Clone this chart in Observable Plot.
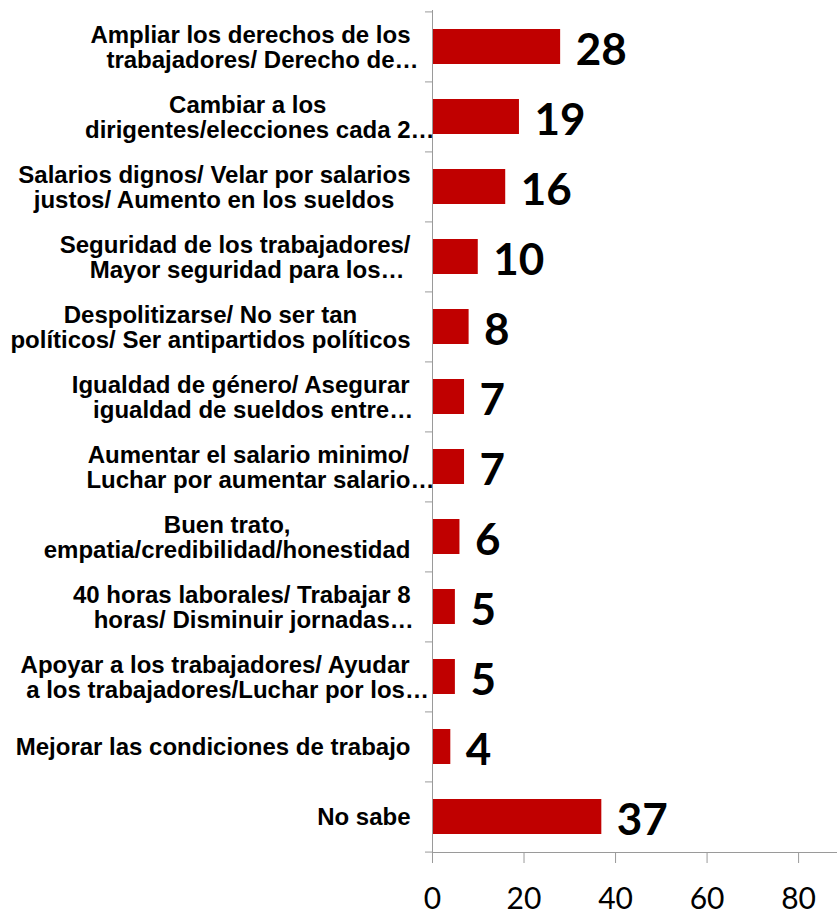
<!DOCTYPE html>
<html><head><meta charset="utf-8">
<script src="https://cdn.jsdelivr.net/npm/d3@7"></script>
<script src="https://cdn.jsdelivr.net/npm/@observablehq/plot@0.6"></script>
<style>body{margin:0;background:#fff} #chart svg{display:block;background:#fff}</style>
</head><body><div id="chart"></div>
<script>
const categories = [
  "Ampliar los derechos de los\ntrabajadores/ Derecho de…",
  "Cambiar a los\ndirigentes/elecciones cada 2…",
  "Salarios dignos/ Velar por salarios\njustos/ Aumento en los sueldos",
  "Seguridad de los trabajadores/\nMayor seguridad para los…",
  "Despolitizarse/ No ser tan\npolíticos/ Ser antipartidos políticos",
  "Igualdad de género/ Asegurar\nigualdad de sueldos entre…",
  "Aumentar el salario minimo/\nLuchar por aumentar salario…",
  "Buen trato,\nempatia/credibilidad/honestidad",
  "40 horas laborales/ Trabajar 8\nhoras/ Disminuir jornadas…",
  "Apoyar a los trabajadores/ Ayudar\na los trabajadores/Luchar por los…",
  "Mejorar las condiciones de trabajo",
  "No sabe"
];
const values = [28, 19, 16, 10, 8, 7, 7, 6, 5, 5, 4, 37];
const xTicks = [0, 20, 40, 60, 80];

const data = categories.map((c, i) => ({cat: c, value: values[i]}));
const W = 837, H = 914, mL = 432, mT = 10, mB = 62;
const step = (H - mT - mB) / categories.length;
const axisGray = "#9a9a9a";
const labelSize = 24;
const ctx = document.createElement("canvas").getContext("2d");
ctx.font = `bold ${labelSize}px 'Liberation Sans'`;
const gap = 22, lineH = 25.5;
const labelMarks = [];
categories.forEach(c => {
  const lines = c.split("\n");
  const widths = lines.map(l => ctx.measureText(l.replace(/…$/, "")).width);
  const maxW = Math.max(...widths);
  const center = -gap - maxW / 2;
  lines.forEach((l, i) => {
    labelMarks.push(Plot.text([c], {
      y: d => d, text: () => l, frameAnchor: "left", textAnchor: "start",
      dx: center - widths[i] / 2,
      dy: (i - (lines.length - 1) / 2) * lineH + 0.8,
      fontSize: labelSize, fontWeight: "bold",
      fontFamily: "'Liberation Sans', Arial, sans-serif", fill: "#000"
    }));
  });
});

const chart = Plot.plot({
  width: W, height: H,
  marginLeft: mL, marginRight: 0, marginTop: mT, marginBottom: mB,
  x: {domain: [0, 88.5]},
  y: {domain: categories, paddingInner: 0.5, paddingOuter: 0.25},
  marks: [
    Plot.barX(data, {x: "value", y: "cat", fill: "#C00000"}),
    Plot.ruleX([0], {stroke: axisGray}),
    Plot.frame({anchor: "bottom", stroke: axisGray}),
    Plot.axisY({tickSize: 7, tickFormat: () => "", stroke: axisGray, dy: -step / 2, label: null}),
    Plot.axisY([categories[categories.length - 1]], {tickSize: 7, tickFormat: () => "", stroke: axisGray, dy: step / 2, label: null}),
    Plot.axisX({ticks: xTicks, tickSize: 11, tickPadding: 24, fontSize: 30, fontFamily: "Lato, sans-serif", stroke: axisGray, fill: "#000", label: null}),
    Plot.text(data, {x: "value", y: "cat", text: d => String(d.value), dx: 15, dy: 3.5, textAnchor: "start", fontSize: 44, fontWeight: "bold", fontFamily: "Lato, sans-serif", fill: "#000"}),
    ...labelMarks
  ]
});
document.getElementById("chart").append(chart);
</script>
</body></html>
